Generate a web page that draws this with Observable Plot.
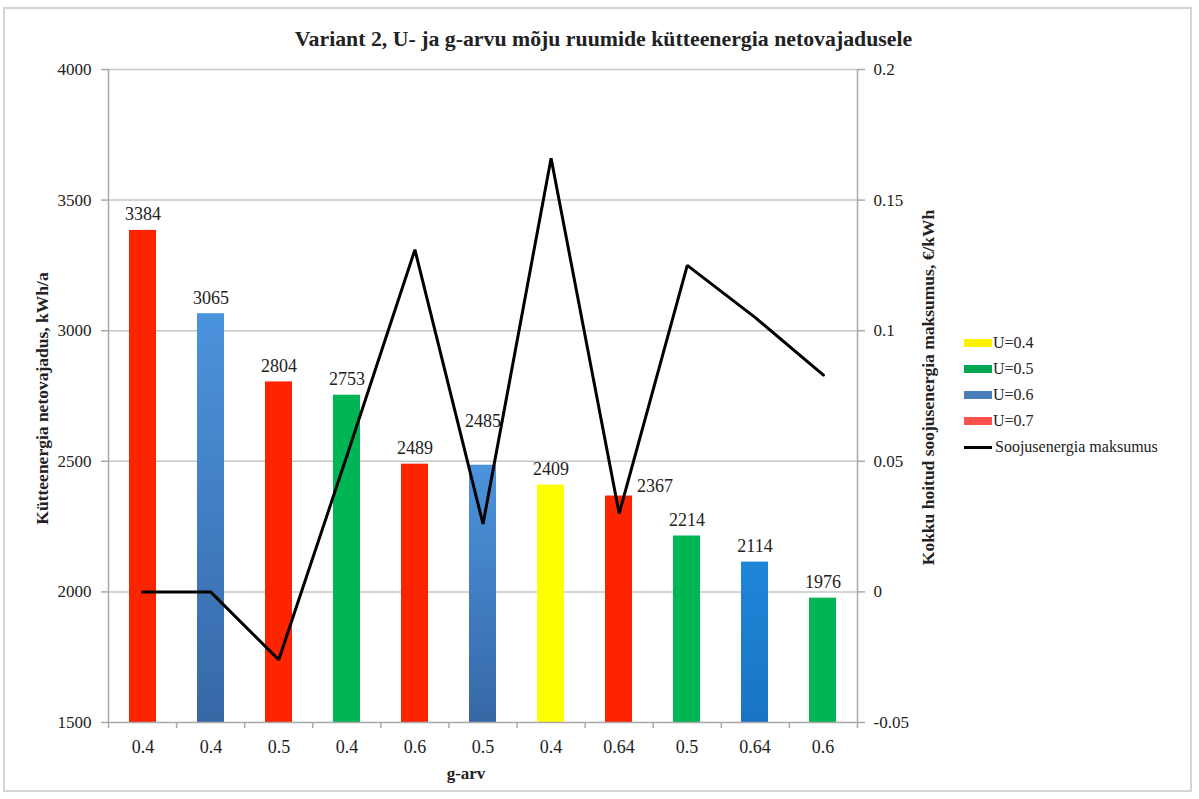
<!DOCTYPE html>
<html>
<head>
<meta charset="utf-8">
<script src="https://cdn.jsdelivr.net/npm/d3@7"></script>
<script src="https://cdn.jsdelivr.net/npm/@observablehq/plot@0.6"></script>
<style>
  html, body { margin: 0; padding: 0; background: #fff; }
  #chart { position: relative; width: 1199px; height: 799px; overflow: hidden; font-family: "Liberation Serif", "Times New Roman", serif; color: #222; }
  #chart svg { position: absolute; left: 0; top: 0; }
  #chart svg text { font-family: "Liberation Serif", "Times New Roman", serif; }
  .border { position: absolute; left: 3px; top: 7px; width: 1189px; height: 785px; border: 2px solid #d4d4d4; box-sizing: border-box; }
  .title { position: absolute; left: 0; width: 1207px; top: 27px; text-align: center; font-weight: bold; font-size: 21.8px; }
  .ylab { position: absolute; font-weight: bold; font-size: 17.5px; white-space: nowrap; transform-origin: center; }
  .xlab { position: absolute; left: 466px; top: 764px; transform: translateX(-50%); font-weight: bold; font-size: 17px; }
  .legend { position: absolute; left: 964px; top: 330px; font-size: 16px; }
  .legend .item { display: flex; align-items: center; height: 26px; }
  .legend .sw { width: 28px; height: 8px; margin-right: 1px; }
  .legend .ln { width: 28px; height: 3px; background: #000; margin-right: 3px; }
</style>
</head>
<body>
<div id="chart"></div>
<script>
// g-value of each glazing variant (x axis categories, in plotted order)
const gValues = ["0.4", "0.4", "0.5", "0.4", "0.6", "0.5", "0.4", "0.64", "0.5", "0.64", "0.6"];
// U-value series each bar belongs to
const uSeries = ["U=0.7", "U=0.6", "U=0.7", "U=0.5", "U=0.7", "U=0.6", "U=0.4", "U=0.7", "U=0.5", "U=0.6", "U=0.5"];
// Net heating energy demand, kWh/a
const heatDemand = [3384, 3065, 2804, 2753, 2489, 2485, 2409, 2367, 2214, 2114, 1976];
// Total saved heat energy cost, €/kWh
const costSaving = [0, 0, -0.026, 0.052, 0.131, 0.026, 0.166, 0.030, 0.125, 0.105, 0.083];
// Axis ticks
const leftTicks = [1500, 2000, 2500, 3000, 3500, 4000];
const rightTicks = [-0.05, 0, 0.05, 0.1, 0.15, 0.2];
// Legend entries
const seriesNames = ["U=0.4", "U=0.5", "U=0.6", "U=0.7"];
const lineName = "Soojusenergia maksumus";

const barColors = { "U=0.4": "#ffff00", "U=0.5": "#00b554", "U=0.6": "url(#blueShade)", "U=0.7": "#ff2400" };
const legendColors = { "U=0.4": "#fff200", "U=0.5": "#00a651", "U=0.6": "#4a7ebb", "U=0.7": "#ff5050" };

const W = 1199, H = 799;
const M = { top: 69, right: 342, bottom: 77, left: 108 };
const FONT = "'Liberation Serif', 'Times New Roman', serif";
const AXIS = "#a9a9a9";

const rows = heatDemand.map((v, i) => ({ i, g: gValues[i], u: uSeries[i], v }));
const slots = d3.range(rows.length);

// label nudges where the cost line crosses the default label spot
const labelNudge = { 5: [0, -28], 7: [36, 6] };

function barFill(d) {
  if (d.u === "U=0.6" && d.g === "0.64") return "url(#blueBright)";
  return barColors[d.u];
}

const common = {
  width: W, height: H,
  marginTop: M.top, marginRight: M.right, marginBottom: M.bottom, marginLeft: M.left,
  style: `font-family: ${FONT}; font-size: 17px; background: transparent; color: #222; overflow: visible;`
};

const plain = rows.filter(d => !(d.i in labelNudge));

const barPlot = Plot.plot({
  ...common,
  color: { type: "identity" },
  x: { type: "band", domain: slots, paddingInner: 0.6, paddingOuter: 0.3 },
  y: { domain: [leftTicks[0], leftTicks[leftTicks.length - 1]] },
  marks: [
    Plot.ruleY(leftTicks.slice(1), { stroke: "#c6c6c6", strokeWidth: 1.5 }),
    Plot.barY(rows, { x: "i", y1: leftTicks[0], y2: "v", fill: barFill }),
    Plot.text(plain, { x: "i", y: "v", text: d => String(d.v), lineAnchor: "bottom", dy: -10, fontSize: 18 }),
    ...Object.entries(labelNudge).map(([k, [dx, dy]]) =>
      Plot.text(rows.filter(d => d.i === +k), { x: "i", y: "v", text: d => String(d.v), lineAnchor: "bottom", dx, dy: -10 + dy, fontSize: 18 })
    ),
    Plot.axisY(leftTicks, { anchor: "left", tickSize: 7, tickPadding: 10, tickFormat: d => String(d), stroke: AXIS, strokeWidth: 1.5, fontSize: 17, label: null }),
    Plot.axisX(slots, { anchor: "bottom", tickSize: 0, tickPadding: 18, tickFormat: i => gValues[i], fontSize: 18, label: null })
  ]
});

const linePlot = Plot.plot({
  ...common,
  x: { domain: [0, rows.length] },
  y: { domain: [rightTicks[0], rightTicks[rightTicks.length - 1]] },
  marks: [
    Plot.ruleX([0, rows.length], { stroke: AXIS, strokeWidth: 1.5 }),
    Plot.ruleY([rightTicks[0]], { stroke: AXIS, strokeWidth: 1.5 }),
    Plot.axisX(d3.range(rows.length + 1), { anchor: "bottom", tickSize: 6, tickFormat: () => "", stroke: AXIS, strokeWidth: 1.5, label: null }),
    Plot.axisY(rightTicks, { anchor: "right", tickSize: 7, tickPadding: 9, tickFormat: d => String(d), stroke: AXIS, strokeWidth: 1.5, fontSize: 17, label: null }),
    Plot.line(costSaving, { x: (d, i) => i + 0.5, y: d => d, stroke: "#000", strokeWidth: 3, strokeLinejoin: "miter" })
  ]
});

// vertical shading of the U=0.6 bars
const defs = d3.select(barPlot).insert("defs", ":first-child");
function shade(id, top, bottom) {
  const g = defs.append("linearGradient").attr("id", id).attr("x1", 0).attr("y1", 0).attr("x2", 0).attr("y2", 1);
  g.append("stop").attr("offset", "0%").attr("stop-color", top);
  g.append("stop").attr("offset", "100%").attr("stop-color", bottom);
}
shade("blueShade", "#4b93dd", "#3768a6");
shade("blueBright", "#1f86d8", "#1a74c4");

const chart = document.getElementById("chart");
chart.insertAdjacentHTML("beforeend", `<div class="border"></div>`);
chart.append(barPlot, linePlot);
chart.insertAdjacentHTML("beforeend", `
  <div class="title">Variant 2, U- ja g-arvu mõju ruumide kütteenergia netovajadusele</div>
  <div class="ylab" id="yl">Kütteenergia netovajadus, kWh/a</div>
  <div class="ylab" id="yr">Kokku hoitud soojusenergia maksumus, €/kWh</div>
  <div class="xlab">g-arv</div>
  <div class="legend">
    ${seriesNames.map(n => `<div class="item"><span class="sw" style="background:${legendColors[n]}"></span>${n}</div>`).join("")}
    <div class="item"><span class="ln"></span>${lineName}</div>
  </div>`);

// rotate the axis titles about their centres
function placeVertical(id, cx, cy) {
  const el = document.getElementById(id);
  const w = el.offsetWidth, h = el.offsetHeight;
  el.style.left = (cx - w / 2) + "px";
  el.style.top = (cy - h / 2) + "px";
  el.style.transform = "rotate(-90deg)";
}
placeVertical("yl", 42, 398);
placeVertical("yr", 928, 387);
</script>
</body>
</html>
